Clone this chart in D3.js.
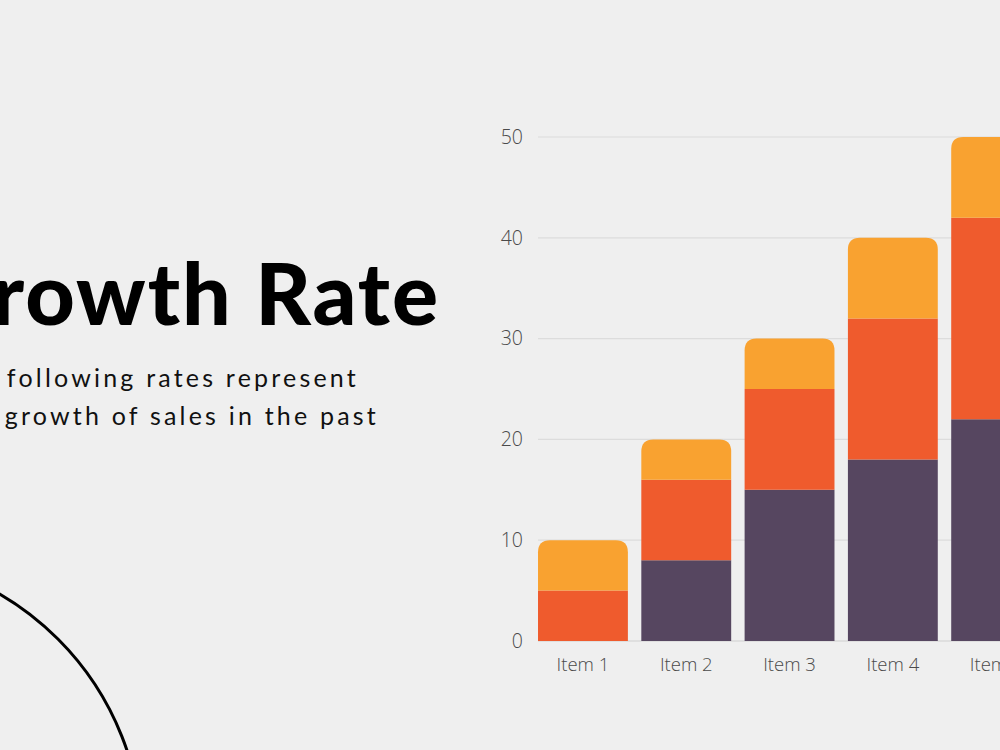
<!DOCTYPE html>
<html>
<head>
<meta charset="utf-8">
<script src="https://cdn.jsdelivr.net/npm/d3@7"></script>
<style>
  body { margin: 0; background: #efefef; }
  svg { display: block; }
</style>
</head>
<body>
<div id="vis"></div>
<script>
// DATA ---------------------------------------------------------------
const items   = ["Item 1", "Item 2", "Item 3", "Item 4", "Item 5"]
const series1 = [0, 8, 15, 18, 22]   // purple (bottom)
const series2 = [5, 8, 10, 14, 20]   // red (middle)
const series3 = [5, 4, 5, 8, 8]      // orange (top)
const yTicks  = [0, 10, 20, 30, 40, 50]
const colors  = ["#564660", "#ef5b2d", "#f9a230"]

const width = 1000, height = 750

const svg = d3.select("#vis").append("svg")
  .attr("width", width)
  .attr("height", height)

svg.append("rect").attr("width", width).attr("height", height).attr("fill", "#efefef")

// Decorative circle bottom-left
svg.append("circle")
  .attr("cx", -145).attr("cy", 842).attr("r", 287)
  .attr("fill", "none").attr("stroke", "#000").attr("stroke-width", 3)

// Title + subtitle (cut off on the left, like the reference)
svg.append("text")
  .attr("x", 440).attr("y", 325)
  .attr("text-anchor", "end")
  .style("font-family", "Lato, sans-serif")
  .style("font-weight", 900)
  .style("font-size", "86px")
  .style("letter-spacing", "2px")
  .attr("fill", "#000")
  .text("Growth Rate")

const sub = ["The following rates represent", "the growth of sales in the past"]
svg.selectAll(".sub").data(sub).enter().append("text")
  .attr("class", "sub")
  .attr("x", (d, i) => i === 0 ? 359 : 379)
  .attr("y", (d, i) => 387 + i * 38)
  .attr("text-anchor", "end")
  .style("font-family", "Lato, sans-serif")
  .style("font-size", "25px")
  .style("letter-spacing", "3.2px")
  .attr("fill", "#111")
  .text(d => d)

// SCALES ------------------------------------------------------------
const y = d3.scaleLinear().domain([0, 50]).range([641, 137])
const x = d3.scaleBand().domain(items).range([531.3, 1047.8]).paddingInner(0.13).paddingOuter(0.065)

// Gridlines
svg.append("g").selectAll("line").data(yTicks).enter().append("line")
  .attr("x1", 538).attr("x2", width)
  .attr("y1", d => y(d)).attr("y2", d => y(d))
  .attr("stroke", d => d === 0 ? "#cfcfcf" : "#dcdcdc")
  .attr("stroke-width", 1.2)

// Y axis labels
const yAxis = svg.append("g")
  .attr("transform", "translate(523,0)")
  .call(d3.axisLeft(y).tickValues(yTicks).tickSize(0).tickPadding(0))
yAxis.select(".domain").remove()
yAxis.selectAll("text")
  .style("font-family", "'Open Sans', sans-serif")
  .style("font-weight", 300)
  .style("font-size", "19.5px")
  .attr("fill", "#4a4a4a")

// X axis labels
const xAxis = svg.append("g")
  .call(d3.axisBottom(x).tickSize(0).tickPadding(0))
xAxis.select(".domain").remove()
xAxis.selectAll("text")
  .attr("y", 671).attr("dy", null)
  .style("font-family", "'Open Sans', sans-serif")
  .style("font-weight", 300)
  .style("font-size", "18.5px")
  .attr("fill", "#4a4a4a")

// BARS --------------------------------------------------------------
const rows = items.map((d, i) => ({ item: d, s1: series1[i], s2: series2[i], s3: series3[i] }))
const stack = d3.stack().keys(["s1", "s2", "s3"])(rows)

const radius = 12
const segPath = (x0, w, yTop, yBot, rounded) => {
  if (!rounded) return `M${x0},${yBot}V${yTop}H${x0 + w}V${yBot}Z`
  const r = Math.min(radius, (yBot - yTop))
  return `M${x0},${yBot}V${yTop + r}Q${x0},${yTop} ${x0 + r},${yTop}H${x0 + w - r}Q${x0 + w},${yTop} ${x0 + w},${yTop + r}V${yBot}Z`
}

svg.append("g").selectAll("g").data(stack).enter().append("g")
  .attr("fill", (d, i) => colors[i])
  .selectAll("path")
  .data((d, i) => d.map(p => ({ p, top: i === 2 })))
  .enter().append("path")
  .filter(d => d.p[1] > d.p[0])
  .attr("d", d => segPath(x(d.p.data.item), x.bandwidth(), y(d.p[1]), y(d.p[0]), d.top))
</script>
</body>
</html>
